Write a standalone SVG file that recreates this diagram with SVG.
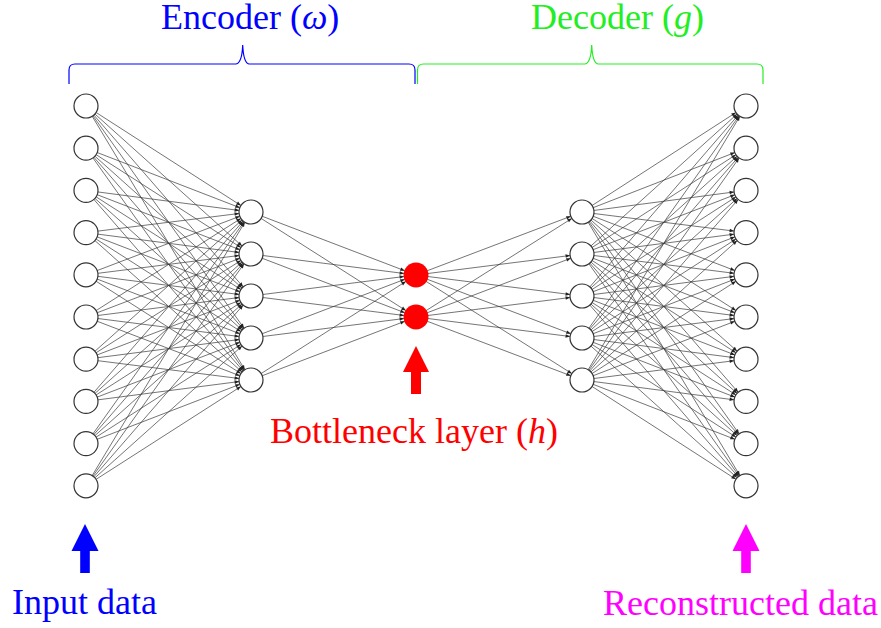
<svg xmlns="http://www.w3.org/2000/svg" width="881" height="628" viewBox="0 0 881 628">
  <style>
    .node { fill: #ffffff; stroke: #333333; stroke-width: 1.2; }
    .hid { fill: #ff0000; stroke: none; }
    .edge path { fill: none; stroke: #3a3a3a; stroke-width: 0.7; marker-end: url(#tip); }
    .brace { fill: none; stroke-width: 1.2; }
  </style>
  <defs>
    <!-- arrow tip sits on the target circle's rim (r = 12) -->
    <marker id="tip" markerUnits="userSpaceOnUse" markerWidth="20" markerHeight="20" refX="12" refY="0" orient="auto" overflow="visible">
      <path d="M0,0 L-4.5,-1.8 L-4.5,1.8 z" fill="#222222"/>
    </marker>
  </defs>
  <rect width="881" height="628" fill="#ffffff"/>

  <!-- braces and titles -->
  <path class="brace" stroke="#0000ff" d="M69,84 L69,70 Q69,64 75,64 L236,64 Q242,63 242.7,45 Q243.5,63 249,64 L409,64 Q415,64 415,70 L415,84"/>
  <path class="brace" stroke="#22ee22" d="M417.5,84 L417.5,70 Q417.5,64 423.5,64 L585,64 Q591,63 591.7,45 Q592.5,63 598,64 L757,64 Q763,64 763,70 L763,84"/>
  <text x="161" y="29" font-family="Liberation Serif" font-size="36" fill="#0000ff">Encoder (<tspan font-style="italic">ω</tspan>)</text>
  <text x="531" y="29" font-family="Liberation Serif" font-size="36" fill="#22ee22">Decoder (<tspan font-style="italic">g</tspan>)</text>

  <!-- connections -->
  <g id="connectors" class="edge">
    <path d="M86 106L251 212"/><path d="M86 106L251 254"/><path d="M86 106L251 296"/><path d="M86 106L251 338"/><path d="M86 106L251 380"/>
    <path d="M86 148.2L251 212"/><path d="M86 148.2L251 254"/><path d="M86 148.2L251 296"/><path d="M86 148.2L251 338"/><path d="M86 148.2L251 380"/>
    <path d="M86 190.4L251 212"/><path d="M86 190.4L251 254"/><path d="M86 190.4L251 296"/><path d="M86 190.4L251 338"/><path d="M86 190.4L251 380"/>
    <path d="M86 232.6L251 212"/><path d="M86 232.6L251 254"/><path d="M86 232.6L251 296"/><path d="M86 232.6L251 338"/><path d="M86 232.6L251 380"/>
    <path d="M86 274.8L251 212"/><path d="M86 274.8L251 254"/><path d="M86 274.8L251 296"/><path d="M86 274.8L251 338"/><path d="M86 274.8L251 380"/>
    <path d="M86 317L251 212"/><path d="M86 317L251 254"/><path d="M86 317L251 296"/><path d="M86 317L251 338"/><path d="M86 317L251 380"/>
    <path d="M86 359.2L251 212"/><path d="M86 359.2L251 254"/><path d="M86 359.2L251 296"/><path d="M86 359.2L251 338"/><path d="M86 359.2L251 380"/>
    <path d="M86 401.4L251 212"/><path d="M86 401.4L251 254"/><path d="M86 401.4L251 296"/><path d="M86 401.4L251 338"/><path d="M86 401.4L251 380"/>
    <path d="M86 443.6L251 212"/><path d="M86 443.6L251 254"/><path d="M86 443.6L251 296"/><path d="M86 443.6L251 338"/><path d="M86 443.6L251 380"/>
    <path d="M86 485.8L251 212"/><path d="M86 485.8L251 254"/><path d="M86 485.8L251 296"/><path d="M86 485.8L251 338"/><path d="M86 485.8L251 380"/>

    <path d="M251 212L416 275"/><path d="M251 212L416 317"/>
    <path d="M251 254L416 275"/><path d="M251 254L416 317"/>
    <path d="M251 296L416 275"/><path d="M251 296L416 317"/>
    <path d="M251 338L416 275"/><path d="M251 338L416 317"/>
    <path d="M251 380L416 275"/><path d="M251 380L416 317"/>

    <path d="M416 275L582 212"/><path d="M416 275L582 254"/><path d="M416 275L582 296"/><path d="M416 275L582 338"/><path d="M416 275L582 380"/>
    <path d="M416 317L582 212"/><path d="M416 317L582 254"/><path d="M416 317L582 296"/><path d="M416 317L582 338"/><path d="M416 317L582 380"/>

    <path d="M582 212L746 106"/><path d="M582 212L746 148.2"/><path d="M582 212L746 190.4"/><path d="M582 212L746 232.6"/><path d="M582 212L746 274.8"/><path d="M582 212L746 317"/><path d="M582 212L746 359.2"/><path d="M582 212L746 401.4"/><path d="M582 212L746 443.6"/><path d="M582 212L746 485.8"/>
    <path d="M582 254L746 106"/><path d="M582 254L746 148.2"/><path d="M582 254L746 190.4"/><path d="M582 254L746 232.6"/><path d="M582 254L746 274.8"/><path d="M582 254L746 317"/><path d="M582 254L746 359.2"/><path d="M582 254L746 401.4"/><path d="M582 254L746 443.6"/><path d="M582 254L746 485.8"/>
    <path d="M582 296L746 106"/><path d="M582 296L746 148.2"/><path d="M582 296L746 190.4"/><path d="M582 296L746 232.6"/><path d="M582 296L746 274.8"/><path d="M582 296L746 317"/><path d="M582 296L746 359.2"/><path d="M582 296L746 401.4"/><path d="M582 296L746 443.6"/><path d="M582 296L746 485.8"/>
    <path d="M582 338L746 106"/><path d="M582 338L746 148.2"/><path d="M582 338L746 190.4"/><path d="M582 338L746 232.6"/><path d="M582 338L746 274.8"/><path d="M582 338L746 317"/><path d="M582 338L746 359.2"/><path d="M582 338L746 401.4"/><path d="M582 338L746 443.6"/><path d="M582 338L746 485.8"/>
    <path d="M582 380L746 106"/><path d="M582 380L746 148.2"/><path d="M582 380L746 190.4"/><path d="M582 380L746 232.6"/><path d="M582 380L746 274.8"/><path d="M582 380L746 317"/><path d="M582 380L746 359.2"/><path d="M582 380L746 401.4"/><path d="M582 380L746 443.6"/><path d="M582 380L746 485.8"/>
  </g>

  <!-- input layer -->
  <g id="in1"><circle class="node" cx="86" cy="106" r="12"/></g>
  <g id="in2"><circle class="node" cx="86" cy="148.2" r="12"/></g>
  <g id="in3"><circle class="node" cx="86" cy="190.4" r="12"/></g>
  <g id="in4"><circle class="node" cx="86" cy="232.6" r="12"/></g>
  <g id="in5"><circle class="node" cx="86" cy="274.8" r="12"/></g>
  <g id="in6"><circle class="node" cx="86" cy="317" r="12"/></g>
  <g id="in7"><circle class="node" cx="86" cy="359.2" r="12"/></g>
  <g id="in8"><circle class="node" cx="86" cy="401.4" r="12"/></g>
  <g id="in9"><circle class="node" cx="86" cy="443.6" r="12"/></g>
  <g id="in10"><circle class="node" cx="86" cy="485.8" r="12"/></g>

  <!-- encoder hidden layer -->
  <g id="enc1"><circle class="node" cx="251" cy="212" r="12"/></g>
  <g id="enc2"><circle class="node" cx="251" cy="254" r="12"/></g>
  <g id="enc3"><circle class="node" cx="251" cy="296" r="12"/></g>
  <g id="enc4"><circle class="node" cx="251" cy="338" r="12"/></g>
  <g id="enc5"><circle class="node" cx="251" cy="380" r="12"/></g>

  <!-- bottleneck -->
  <g id="code1"><circle class="hid" cx="416" cy="275" r="12.5"/></g>
  <g id="code2"><circle class="hid" cx="416" cy="317" r="12.5"/></g>

  <!-- decoder hidden layer -->
  <g id="dec1"><circle class="node" cx="582" cy="212" r="12"/></g>
  <g id="dec2"><circle class="node" cx="582" cy="254" r="12"/></g>
  <g id="dec3"><circle class="node" cx="582" cy="296" r="12"/></g>
  <g id="dec4"><circle class="node" cx="582" cy="338" r="12"/></g>
  <g id="dec5"><circle class="node" cx="582" cy="380" r="12"/></g>

  <!-- output layer -->
  <g id="out1"><circle class="node" cx="746" cy="106" r="12"/></g>
  <g id="out2"><circle class="node" cx="746" cy="148.2" r="12"/></g>
  <g id="out3"><circle class="node" cx="746" cy="190.4" r="12"/></g>
  <g id="out4"><circle class="node" cx="746" cy="232.6" r="12"/></g>
  <g id="out5"><circle class="node" cx="746" cy="274.8" r="12"/></g>
  <g id="out6"><circle class="node" cx="746" cy="317" r="12"/></g>
  <g id="out7"><circle class="node" cx="746" cy="359.2" r="12"/></g>
  <g id="out8"><circle class="node" cx="746" cy="401.4" r="12"/></g>
  <g id="out9"><circle class="node" cx="746" cy="443.6" r="12"/></g>
  <g id="out10"><circle class="node" cx="746" cy="485.8" r="12"/></g>

  <!-- pointer arrows and captions -->
  <g id="bottleneck-label">
    <polygon fill="#ff0000" points="416,346 429,372 421,372 421,394 411,394 411,372 403,372"/>
    <text x="270" y="443" font-family="Liberation Serif" font-size="36" fill="#ff0000">Bottleneck layer (<tspan font-style="italic">h</tspan>)</text>
  </g>
  <g id="input-label">
    <polygon fill="#0000ff" points="85,524 98.5,551 89.8,551 89.8,573 80.2,573 80.2,551 71.5,551"/>
    <text x="12" y="614" font-family="Liberation Serif" font-size="36" fill="#0000ff">Input data</text>
  </g>
  <g id="output-label">
    <polygon fill="#ff00ff" points="746,524 759.5,551 750.8,551 750.8,573 741.2,573 741.2,551 732.5,551"/>
    <text x="603" y="615" font-family="Liberation Serif" font-size="36" fill="#ff00ff">Reconstructed data</text>
  </g>
</svg>
